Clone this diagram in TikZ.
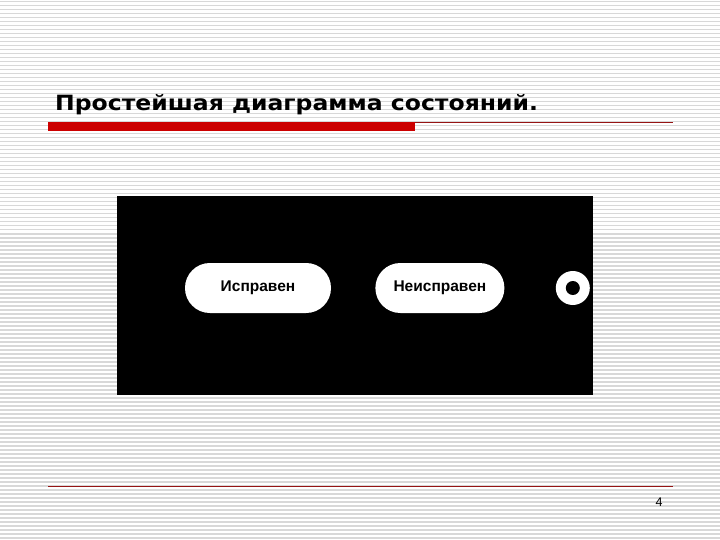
\documentclass[tikz,border=0pt]{standalone}
\usepackage{fontspec}
\setmainfont{Liberation Sans}
\newfontfamily\titlefont{DejaVu Sans}[FakeStretch=1.12]
\usetikzlibrary{positioning}
\definecolor{slidered}{RGB}{204,0,0}
\definecolor{linered}{RGB}{150,20,20}
\definecolor{stripe}{RGB}{216,216,216}
\tikzset{
  state/.style={fill=white, rounded corners=24.9pt, minimum height=50pt, inner sep=0pt,
    font=\fontsize{15.5}{18}\selectfont\bfseries},
}

\begin{document}
\begin{tikzpicture}[x=1pt,y=-1pt]
  \useasboundingbox (0,0) rectangle (720,540);
  % background stripes
  \fill[white] (0,0) rectangle (720,540);
  \foreach \y in {1,5,...,537}
    \fill[stripe] (0,\y) rectangle (720,\y+1.5);
  % title and rules
  \node[anchor=base west, inner sep=0pt, font=\titlefont\bfseries\fontsize{21}{25}\selectfont] (title) at (55,111) {Простейшая диаграмма состояний.};
  \fill[slidered] (48,122.5) rectangle (415,131.5);
  \draw[linered, line width=1pt] (415,123) -- (673,123);
  \draw[linered, line width=1pt] (48,486) -- (673,486);
  \node[font=\fontsize{12.5}{15}\selectfont] (page) at (659,502) {4};
  % diagram
  \fill[black] (117,196) rectangle (593,395);
  \node[state, minimum width=146pt] (ispraven) at (258,288) {Исправен};
  \node[state, minimum width=129pt, right=44pt of ispraven] (neispraven) {Неисправен};
  \node[circle, fill=white, inner sep=0pt, minimum size=34pt, right=51pt of neispraven] (final) {};
  \node[circle, fill=black, inner sep=0pt, minimum size=14pt] (finaldot) at (final) {};
\end{tikzpicture}
\end{document}
